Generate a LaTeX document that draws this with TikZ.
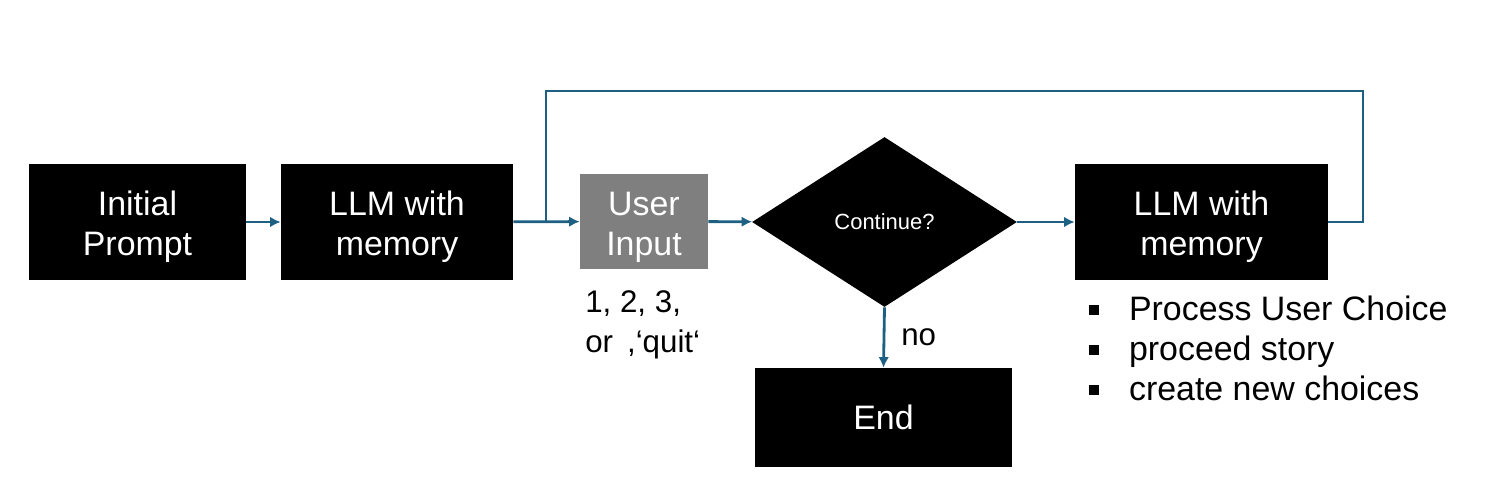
\documentclass[tikz,border=0pt]{standalone}
\usepackage{fontspec}
\setmainfont{Liberation Sans}
\usetikzlibrary{shapes.geometric, arrows.meta}
\definecolor{flowblue}{RGB}{30,96,130}
\definecolor{boxgray}{RGB}{127,127,127}
\newcommand{\sqbullet}{\rule[2.8pt]{5.6pt}{5.6pt}\hspace{17pt}}

\begin{document}
\begin{tikzpicture}[x = .02cm, y = -.02cm,
    block/.style = {fill = black, text = white, align = center, inner sep = 0pt,
                    font = \fontsize{19.3}{22.7}\selectfont},
    twoline/.style = {execute at begin node = {\rule{0pt}{42.5pt}}},
    flow/.style = {draw = flowblue, line width = 1.6pt},
    arr/.style = {flow, -{Latex[length = 6pt, width = 6pt]}},
    note/.style = {font = \fontsize{17.8}{20}\selectfont, inner sep = 0pt}]
        \useasboundingbox (0,0) rectangle (1489,490);

        \node[block, twoline, minimum width = 4.34cm, minimum height = 2.32cm]
             (init) at (137.5,222) {Initial\\Prompt};
        \node[block, twoline, minimum width = 4.64cm, minimum height = 2.32cm]
             (llmA) at (397,222) {LLM with\\memory};
        \node[block, twoline, fill = boxgray, minimum width = 2.56cm, minimum height = 1.9cm]
             (user) at (644,221.5) {User\\Input};
        \node[block, diamond, minimum width = 5.3cm, minimum height = 3.4cm,
              font = \fontsize{12.5}{15}\selectfont]
             (cont) at (884.5,222) {Continue?};
        \node[block, twoline, minimum width = 5.06cm, minimum height = 2.32cm]
             (llmB) at (1201.5,222) {LLM with\\memory};
        \node[block, minimum width = 5.14cm, minimum height = 1.98cm]
             (end) at (883.5,417.5) {End};

        \draw[arr] (init) -- (llmA);
        \draw[arr] (llmA) -- (user);
        \draw[arr] (user) -- (cont);
        \draw[arr] (cont) -- (llmB);
        \draw[arr] (cont.south) -- (end.north);

        % loop back to the user input
        \coordinate (loop) at (1363,91);
        \coordinate (join) at (546,222);
        \draw[flow] (llmB.east) -| (loop) -| (join);

        \node[note, anchor = base west] (no) at (901,345) {no};
        \node[note, anchor = base west] (choiceA) at (585,312) {1, 2, 3,};
        \node[note, anchor = base west] (choiceB) at (585,352) {or\hspace{3pt} ,‘quit‘};

        \node[note, font = \fontsize{19.3}{22}\selectfont, anchor = base west]
             (stepA) at (1089,320) {\sqbullet Process User Choice};
        \node[note, font = \fontsize{19.3}{22}\selectfont, anchor = base west]
             (stepB) at (1089,360) {\sqbullet proceed story};
        \node[note, font = \fontsize{19.3}{22}\selectfont, anchor = base west]
             (stepC) at (1089,400) {\sqbullet create new choices};
\end{tikzpicture}
\end{document}
